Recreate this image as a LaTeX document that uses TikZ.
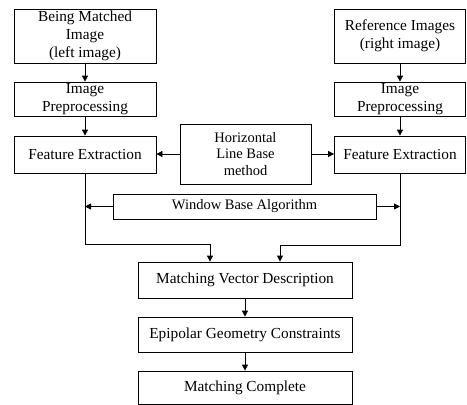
\documentclass[tikz,border=0pt]{standalone}
\usepackage{fontspec}
\setmainfont{Liberation Serif}
\usetikzlibrary{arrows.meta}
\begin{document}
\begin{tikzpicture}[x=1pt,y=-1pt,
  box/.style={draw, line width=0.8pt, inner sep=1pt, align=center, font=\fontsize{15.3}{18}\selectfont},
  arr/.style={line width=0.8pt, -{Triangle[length=6pt,width=6pt]}},
  ln/.style={line width=0.8pt}]
\useasboundingbox (0,0) rectangle (467,405);
\node[box, minimum width=142pt, minimum height=54pt] (L1) at (85,36) {Being Matched\\Image\\(left image)};
\node[box, minimum width=142pt, minimum height=34pt] (L2) at (85,99) {Image\\Preprocessing};
\node[box, minimum width=142pt, minimum height=37pt] (L3) at (85,154.5) {Feature Extraction};
\node[box, minimum width=131pt, minimum height=54pt] (R1) at (400,36) {Reference Images\\(right image)};
\node[box, minimum width=131pt, minimum height=34pt] (R2) at (400,99) {Image\\Preprocessing};
\node[box, minimum width=131pt, minimum height=37pt] (R3) at (400,154.5) {Feature Extraction};
\node[box, minimum width=131pt, minimum height=60pt, font=\fontsize{14.5}{16.5}\selectfont] (H) at (245.5,154) {Horizontal\\Line Base\\method};
\node[box, minimum width=263pt, minimum height=25pt, font=\fontsize{14.5}{17}\selectfont] (W) at (244.5,206.5) {Window Base Algorithm};
\node[box, minimum width=214pt, minimum height=36pt] (M1) at (245,280) {Matching Vector Description};
\node[box, minimum width=214pt, minimum height=35pt] (M2) at (245,334.5) {Epipolar Geometry Constraints};
\node[box, minimum width=214pt, minimum height=33pt] (M3) at (245,387.5) {Matching Complete};
\coordinate (lc) at (210,244);
\coordinate (rc) at (280,245);
\draw[arr] (L1) -- (L2);
\draw[arr] (L2) -- (L3);
\draw[arr] (R1) -- (R2);
\draw[arr] (R2) -- (R3);
\draw[arr] (H.west) -- (H.west -| L3.east);
\draw[arr] (H.east) -- (H.east -| R3.west);
\draw[arr] (W.west) -- (W.west -| L3.south);
\draw[arr] (W.east) -- (W.east -| R3.south);
\draw[ln] (L3.south) |- (lc);
\draw[arr] (lc) -- (lc |- M1.north);
\draw[ln] (R3.south) |- (rc);
\draw[arr] (rc) -- (rc |- M1.north);
\draw[arr] (M1) -- (M2);
\draw[arr] (M2) -- (M3);
\end{tikzpicture}
\end{document}
